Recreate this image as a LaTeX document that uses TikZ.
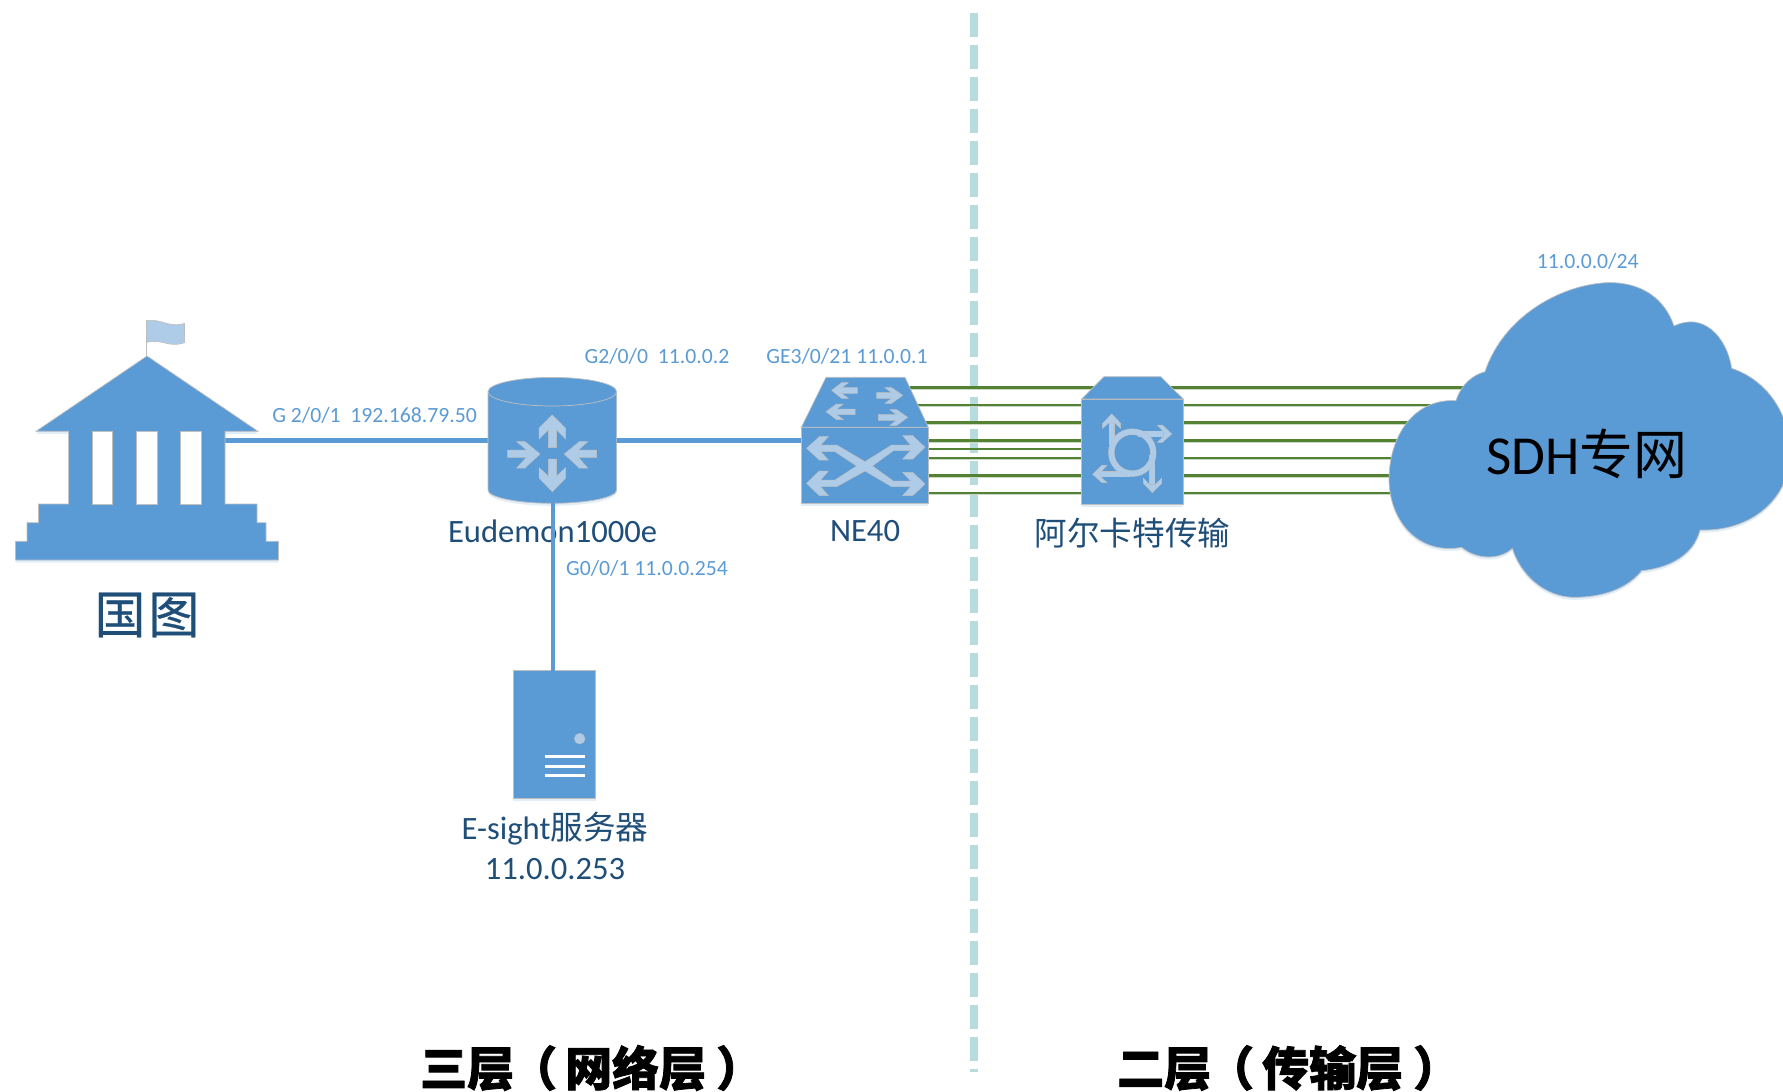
\documentclass[tikz,border=0pt]{standalone}
\usepackage{fontspec}
\setmainfont{Carlito}
\newfontfamily\cjk{Noto Sans CJK SC}
\newfontfamily\cjkfat[FakeBold=1.6]{Noto Sans CJK SC}
\newfontfamily\cjkmid[FakeBold=.5]{Noto Sans CJK SC}
\usetikzlibrary{shadows}
\definecolor{blueA}{HTML}{5B9BD5}
\definecolor{liteA}{HTML}{AECBE8}
\definecolor{navyA}{HTML}{1F4E79}
\definecolor{greenA}{HTML}{548235}
\definecolor{tealA}{HTML}{B5DDE0}
\definecolor{edgeA}{HTML}{BFBFBF}
\tikzset{
  body/.style={fill=blueA,draw=edgeA,line width=.7pt,line join=miter},
  softshade/.style={drop shadow={shadow xshift=0pt,shadow yshift=-2.5pt,opacity=.18,fill=blueA}},
  glyph/.style={fill=liteA,draw=edgeA,line width=.5pt},
  tube/.style={draw=edgeA,line width=.5pt,double=liteA,double distance=5.2pt},
  link/.style={draw=blueA,line width=5.2pt},
  dropline/.style={draw=blueA,line width=3.9pt},
  wire/.style={draw=greenA,line width=2.6pt},
  port/.style={text=blueA,font=\fontsize{21.7}{24}\selectfont,inner sep=0pt},
  captext/.style={text=navyA,font=\fontsize{32.6}{38}\selectfont,inner sep=0pt,align=center},
  titletext/.style={text=black,font=\cjkfat\bfseries\fontsize{47}{50}\selectfont,inner sep=0pt,anchor=west},
  anchorbox/.style={inner sep=0pt,outer sep=0pt,draw=none,fill=none},
  zoomA/.style={shift={(780,340)},x=.33333pt,y=-.33333pt},
  zoomB/.style={shift={(0,300)},x=.40816pt,y=-.33333pt},
  zoomC/.style={shift={(1360,240)},x=.33333pt,y=-.33333pt},
}
\begin{document}
\begin{tikzpicture}[x=1pt,y=-1pt]
\useasboundingbox (0,0) rectangle (1783,1092);
\clip (0,0) rectangle (1783,1092);
% anchors
\node[anchorbox,minimum width=128.6pt,minimum height=126pt] (rtr) at (552.3,440.3) {};
\node[anchorbox,minimum width=127pt,minimum height=126pt] (ne) at (864.8,440.3) {};
\node[anchorbox,minimum width=101.6pt,minimum height=127.3pt] (trans) at (1132.5,440.3) {};
\node[anchorbox,minimum width=82.4pt,minimum height=127.3pt] (srv) at (554.5,734.4) {};
\coordinate (bldport) at (225,440.3);
% divider
\coordinate (divtop) at (974,13);
\coordinate (divbot) at (974,1071.7);
\draw[draw=tealA,line width=7.3pt,dash pattern=on 24pt off 8pt] (divtop) -- (divbot);
% green wires
\foreach \i/\yy in {1/387.5,2/405,3/422.7,4/440.3,5/458,6/475.3,7/493}{
  \coordinate (wa\i) at (880,\yy);
  \coordinate (wb\i) at (1600,\yy);
  \draw[draw=white!70!greenA,line width=1pt] ([yshift=-1.8pt]wa\i) -- ([yshift=-1.8pt]wb\i);
  \draw[wire] (wa\i) -- (wb\i);
}
\coordinate (wa8) at (880,449);
\coordinate (wb8) at (1130,449);
\draw[wire] (wa8) -- (wb8);
% links
\draw[link] (bldport) -- (rtr.center);
\draw[link] (rtr.center) -- (ne.center);
% building
\draw[body,softshade] (147,356) -- (258,431.3) -- (225,431.3) -- (225,504) -- (257,504) -- (257,522.7) -- (266,522.7) -- (266,541.3) -- (278.4,541.3) -- (278.4,560) -- (15.5,560) -- (15.5,541.3) -- (27,541.3) -- (27,522.7) -- (38.4,522.7) -- (38.4,504) -- (68.6,504) -- (68.6,431.3) -- (36,431.3) -- cycle;
\fill[white] (92,431.3) rectangle (112.6,504);
\fill[white] (136,431.3) rectangle (157,504);
\fill[white] (180.4,431.3) rectangle (201.6,504);
\draw[edgeA,line width=.6pt] (92,431.3) rectangle (112.6,504) (136,431.3) rectangle (157,504) (180.4,431.3) rectangle (201.6,504);
\begin{scope}[zoomB]
\draw[edgeA,line width=1pt] (360,60) -- (360,168);
\draw[fill=liteA,draw=edgeA,line width=.6pt] (360,62) .. controls (395,55) and (415,85) .. (452,70) -- (452,128) .. controls (415,145) and (395,115) .. (360,127) -- cycle;
\end{scope}
% router
\draw[body,softshade] (488,391.7) -- (488,490) .. controls (488,497.3) and (516.7,503.3) .. (552.3,503.3) .. controls (587.9,503.3) and (616.6,497.3) .. (616.6,490) -- (616.6,391.7) -- cycle;
\draw[body] (552.3,391.7) ellipse [x radius=64.3pt,y radius=14.3pt];
\path[glyph] (552.3,415) -- (539,428.3) -- (539,439) -- (548.3,430) -- (548.3,447.7) -- (556.7,447.7) -- (556.7,430) -- (565.7,439) -- (565.7,428.3) -- cycle;
\path[glyph] (552.3,491.7) -- (539,478) -- (539,467.7) -- (548.3,476) -- (548.3,459) -- (556.7,459) -- (556.7,476) -- (565.7,467.7) -- (565.7,478) -- cycle;
\path[glyph] (540,454) -- (525,441.7) -- (516.7,441.7) -- (526.7,450) -- (507.7,450) -- (507.7,457.3) -- (526.7,457.3) -- (516.7,468) -- (525,468) -- cycle;
\path[glyph] (564.3,454) -- (579.3,441.7) -- (587.7,441.7) -- (578.3,450) -- (596.7,450) -- (596.7,457.3) -- (578.3,457.3) -- (587.7,468) -- (579.3,468) -- cycle;
% NE40
\begin{scope}[zoomA]
\draw[body,softshade] (64,262) rectangle (445,490);
\draw[body] (138,112) -- (375,112) -- (445,262) -- (64,262) -- cycle;
\path[glyph] (155,151) -- (185,128) -- (205,128) -- (185,143) -- (232,143) -- (232,160) -- (185,160) -- (205,175) -- (185,175) -- cycle;
\path[glyph] (368,166) -- (335,143) -- (315,143) -- (335,158) -- (290,158) -- (290,175) -- (335,175) -- (315,190) -- (335,190) -- cycle;
\path[glyph] (138,215) -- (170,192) -- (190,192) -- (170,207) -- (225,207) -- (225,224) -- (170,224) -- (190,239) -- (170,239) -- cycle;
\path[glyph] (383,232) -- (350,209) -- (330,209) -- (350,224) -- (295,224) -- (295,241) -- (350,241) -- (330,256) -- (350,256) -- cycle;
\path[glyph] (80,325) -- (118,290) -- (145,290) -- (122,315) -- (170,315) -- (255,365) -- (335,315) -- (392,315) -- (368,287) -- (398,287) -- (435,322) -- (398,357) -- (368,357) -- (392,332) -- (340,332) -- (277,378) -- (340,423) -- (392,423) -- (368,397) -- (398,397) -- (435,432) -- (398,467) -- (368,467) -- (392,440) -- (335,440) -- (255,393) -- (170,440) -- (122,440) -- (145,467) -- (118,467) -- (80,430) -- (118,393) -- (145,393) -- (122,420) -- (165,420) -- (230,378) -- (165,335) -- (122,335) -- (145,360) -- (118,360) -- cycle;
% transport
\draw[body,softshade] (905,177) rectangle (1210,492);
\draw[body] (972,110) -- (1142,110) -- (1210,177) -- (905,177) -- cycle;
\draw[tube] (995,245) -- (995,315);
\draw[tube] (1075,282) -- (1150,282);
\draw[tube] (1117,345) -- (1117,433);
\draw[tube] (1050,403) -- (963,403);
\draw[tube] (1057,338) circle [radius=21pt];
\path[glyph] (995,222) -- (1022,250) -- (1022,265) -- (1003,248) -- (987,248) -- (968,265) -- (968,250) -- cycle;
\path[glyph] (1175,282) -- (1147,255) -- (1132,255) -- (1150,274) -- (1150,290) -- (1132,307) -- (1147,307) -- cycle;
\path[glyph] (1117,458) -- (1145,430) -- (1145,415) -- (1126,433) -- (1108,433) -- (1090,415) -- (1090,430) -- cycle;
\path[glyph] (938,403) -- (966,376) -- (981,376) -- (963,395) -- (963,411) -- (981,428) -- (966,428) -- cycle;
\end{scope}
% cloud
\begin{scope}[zoomC]
\draw[body,softshade] (375,395) .. controls (430,230) and (600,135) .. (740,128) .. controls (850,125) and (915,180) .. (942,258) .. controls (1030,215) and (1100,290) .. (1115,385) .. controls (1220,420) and (1290,520) .. (1290,640) .. controls (1290,770) and (1180,875) .. (1020,870) .. controls (1000,950) and (920,985) .. (845,992) .. controls (790,1060) and (700,1072) .. (640,1072) .. controls (550,1070) and (480,1000) .. (457,925) .. controls (420,960) and (350,960) .. (305,922) .. controls (180,945) and (90,850) .. (87,720) .. controls (87,590) and (160,475) .. (288,482) .. controls (305,430) and (340,405) .. (375,395) -- cycle;
\end{scope}
% server
\draw[body,softshade] (srv.north west) rectangle (srv.south east);
\draw[glyph] (579.7,738.7) circle [radius=5.3pt];
\draw[white,line width=3pt] (545,756) -- (584.7,756) (545,766) -- (584.7,766) (545,775.7) -- (584.7,775.7);
% captions
\node[captext,font=\cjkmid\fontsize{51}{54}\selectfont] (lblbld) at (147,615) {国\kern3pt图};
\node[captext] (lblrtr) at (552.6,531) {Eudemon1000e};
\node[captext] (lblne) at (865,531) {NE40};
\node[captext,font=\cjk\fontsize{32.6}{38}\selectfont] (lbltrans) at (1132.5,533) {阿尔卡特传输};
\node[captext] (lblsrv) at (555,846) {E-sight{\cjk 服务器}\\[1.5pt]11.0.0.253};
\node[anchorbox,font=\fontsize{55}{58}\selectfont,text=black] (lblcloud) at (1587,454) {SDH{\cjk\fontsize{54}{58}\selectfont 专网}};
% server drop line
\coordinate (dropa) at (553.3,503);
\coordinate (dropb) at (553.3,670.7);
\draw[dropline] (dropa) -- (dropb);
% port labels
\node[port] (p1) at (374.6,415.7) {G 2/0/1\ \ 192.168.79.50};
\node[port] (p2) at (657,356.5) {G2/0/0\ \ 11.0.0.2};
\node[port] (p3) at (847,356.5) {GE3/0/21 11.0.0.1};
\node[port] (p4) at (647,568.5) {G0/0/1 11.0.0.254};
\node[port] (p5) at (1587.7,261.7) {11.0.0.0/24};
% titles
\node[titletext] (t1) at (420,1068) {三层\kern-4pt（\kern8pt网络层\kern10pt）};
\node[titletext] (t2) at (1117,1068) {二层\kern-4pt（\kern8pt传输层\kern10pt）};
\end{tikzpicture}
\end{document}
